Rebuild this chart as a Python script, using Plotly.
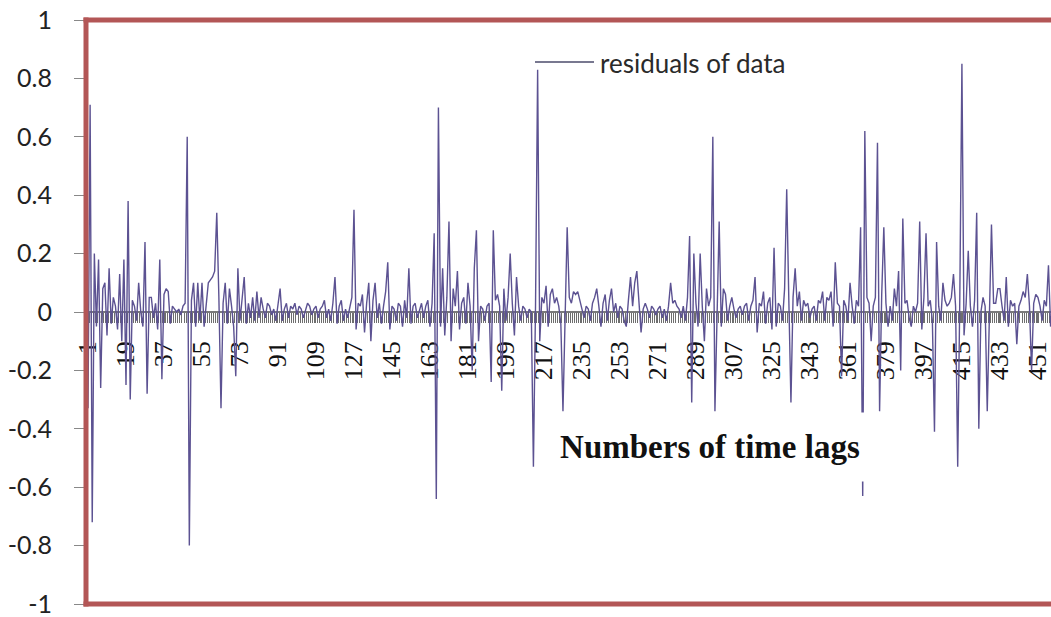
import plotly.graph_objects as go

# ---- data ----
residuals = [
    -0.33, 0.71, -0.72, 0.20, -0.05, 0.18, -0.26, 0.08, 0.10, -0.08,
    0.15, -0.04, 0.05, 0.02, -0.06, 0.13, -0.10, 0.18, -0.25, 0.38,
    -0.30, 0.04, 0.02, -0.03, 0.10, 0.00, -0.05, 0.24, -0.28, 0.05,
    0.05, -0.02, 0.03, -0.06, 0.18, -0.23, 0.06, 0.08, 0.07, -0.04,
    0.02, 0.01, 0.00, 0.01, -0.01, 0.02, 0.03, 0.60, -0.80, 0.04,
    0.10, -0.05, 0.10, -0.03, 0.10, -0.05, 0.04, 0.10, 0.11, 0.12,
    0.14, 0.34, 0.05, -0.33, 0.03, 0.10, -0.04, 0.08, 0.02, -0.05,
    -0.22, 0.15, -0.03, 0.06, 0.12, -0.04, 0.03, -0.02, 0.05, -0.03,
    0.07, -0.02, 0.05, 0.01, -0.02, 0.03, 0.02, -0.01, 0.01, -0.03,
    0.02, 0.08, -0.03, 0.01, 0.03, -0.02, 0.02, 0.01, 0.03, -0.01,
    0.02, 0.01, -0.02, 0.01, 0.03, 0.02, -0.01, 0.01, 0.02, -0.02,
    0.01, 0.02, 0.04, -0.02, 0.01, -0.03, 0.03, 0.12, -0.04, 0.02,
    0.04, -0.03, 0.01, -0.02, 0.02, 0.05, 0.35, -0.06, 0.03, 0.02,
    0.06, -0.07, 0.03, 0.10, -0.10, 0.04, 0.10, -0.02, 0.03, -0.04,
    0.02, 0.07, 0.17, -0.06, 0.02, 0.01, -0.03, 0.03, 0.02, -0.05,
    0.04, -0.02, 0.15, -0.04, 0.02, 0.03, -0.02, 0.01, 0.03, -0.02,
    0.02, 0.04, -0.05, 0.03, 0.27, -0.64, 0.70, -0.05, 0.15, -0.08,
    0.05, 0.31, -0.10, 0.08, 0.02, 0.14, -0.06, 0.03, 0.05, -0.04,
    0.10, 0.02, -0.20, 0.15, 0.28, -0.10, 0.02, 0.01, -0.03, 0.02,
    0.03, -0.24, 0.28, 0.04, 0.06, 0.02, -0.27, 0.08, -0.03, 0.05,
    0.20, 0.03, -0.08, 0.12, 0.02, -0.03, 0.02, 0.01, -0.02, 0.01,
    0.00, -0.53, 0.02, 0.83, -0.10, 0.05, 0.03, 0.09, -0.05, 0.06,
    0.08, 0.03, 0.05, 0.02, -0.04, -0.34, 0.03, 0.29, 0.05, 0.03,
    0.07, 0.06, 0.07, 0.04, 0.02, -0.02, 0.02, 0.01, -0.03, 0.03,
    0.05, 0.08, 0.02, -0.05, 0.03, 0.06, -0.03, 0.04, 0.08, 0.00,
    0.03, -0.02, 0.02, 0.01, -0.03, -0.05, 0.04, 0.12, 0.02, 0.10,
    0.14, 0.05, -0.07, 0.01, 0.03, 0.01, -0.02, 0.02, 0.01, -0.01,
    0.01, 0.02, -0.02, 0.01, -0.03, 0.02, 0.10, 0.03, 0.04, 0.02,
    0.01, -0.02, 0.02, -0.03, 0.05, 0.26, -0.31, 0.20, 0.03, -0.05,
    0.20, 0.02, -0.10, 0.08, 0.02, 0.05, 0.60, -0.34, 0.05, 0.31,
    -0.05, 0.08, 0.06, -0.03, 0.02, 0.05, 0.01, -0.02, 0.01, 0.02,
    -0.01, 0.02, 0.03, -0.03, 0.02, 0.04, 0.12, -0.07, 0.03, 0.02,
    0.07, -0.04, 0.03, 0.05, -0.06, 0.22, -0.05, 0.03, 0.02, -0.03,
    0.08, 0.42, 0.04, -0.31, 0.05, 0.15, 0.02, 0.07, -0.03, 0.04,
    0.02, 0.03, -0.02, 0.01, 0.02, -0.03, 0.04, 0.03, 0.07, -0.03,
    0.05, 0.04, 0.07, -0.05, 0.17, 0.03, 0.02, -0.22, 0.04, 0.02,
    -0.03, 0.10, 0.02, -0.04, 0.04, 0.02, 0.29, -0.63, 0.62, 0.05,
    0.03, -0.10, 0.02, 0.05, 0.58, -0.34, 0.06, 0.29, 0.03, -0.05,
    0.02, -0.03, 0.08, 0.02, 0.14, -0.20, 0.32, 0.03, 0.04, -0.02,
    -0.05, 0.02, 0.00, 0.03, 0.31, -0.06, 0.05, 0.27, 0.02, 0.04,
    -0.03, -0.41, 0.24, 0.02, -0.03, 0.10, 0.04, 0.02, 0.03, 0.05,
    0.13, 0.02, -0.53, 0.05, 0.85, -0.08, 0.03, 0.21, 0.02, -0.05,
    0.04, 0.34, -0.40, 0.00, 0.05, 0.02, -0.34, 0.04, 0.30, 0.03,
    0.03, 0.08, 0.08, 0.02, -0.03, 0.12, -0.05, 0.04, 0.02, 0.03,
    -0.11, 0.02, 0.04, 0.07, 0.05, 0.13, 0.02, -0.20, 0.03, 0.06,
    0.05, 0.02, -0.03, 0.04, 0.02, 0.16, -0.05, 0.03, 0.02, -0.04,
]
lags = list(range(1, len(residuals) + 1))

x_tick_vals = [1, 19, 37, 55, 73, 91, 109, 127, 145, 163, 181, 199, 217, 235,
               253, 271, 289, 307, 325, 343, 361, 379, 397, 415, 433, 451]
x_tick_text = [str(v) for v in x_tick_vals]
y_tick_vals = [1, 0.8, 0.6, 0.4, 0.2, 0, -0.2, -0.4, -0.6, -0.8, -1]
y_tick_text = ["1", "0.8", "0.6", "0.4", "0.2", "0", "-0.2", "-0.4", "-0.6", "-0.8", "-1"]

series_name = "residuals of data"
x_title = "Numbers of time lags"

# ---- styling ----
W, H = 1051, 617
ML, MR, MT, MB = 86, 0, 20, 13
PW, PH = W - ML - MR, H - MT - MB
border = "#B35656"
line_col = "#5C5292"


def px_x(p):
    return (p - ML) / PW


def px_y(p):
    return (H - MB - p) / PH


fig = go.Figure()
fig.add_trace(go.Scatter(
    x=lags, y=residuals, mode="lines", name=series_name,
    line=dict(color=line_col, width=1.4), showlegend=False,
))

fig.update_layout(
    width=W, height=H,
    margin=dict(l=ML, r=MR, t=MT, b=MB),
    paper_bgcolor="white", plot_bgcolor="white",
    xaxis=dict(
        type="linear", range=[0.05, 457.2],
        anchor="free", position=0.5,
        tickmode="array", tickvals=x_tick_vals, ticktext=x_tick_text,
        tickangle=-90,
        tickfont=dict(family="Liberation Serif", size=26, color="#111"),
        ticks="outside", ticklen=10, tickcolor="#6e6e6e", tickwidth=1.2,
        minor=dict(tickmode="linear", tick0=0.5, dtick=1, ticks="outside",
                   ticklen=10, tickcolor="#6e6e6e", tickwidth=1.2, showgrid=False),
        showline=True, linecolor="#7a7a7a", linewidth=1.5,
        showgrid=False, zeroline=False,
        ticklabelstandoff=8,
        ticklabeloverflow="allow",
        layer="below traces",
    ),
    yaxis=dict(
        range=[-1, 1],
        tickmode="array", tickvals=y_tick_vals, ticktext=y_tick_text,
        tickfont=dict(family="Lato", size=25, color="#222"),
        ticks="outside", ticklen=11, tickcolor="#888", tickwidth=1,
        showline=False, showgrid=False, zeroline=False,
        ticklabelstandoff=17,
        ticklabeloverflow="allow",
    ),
    shapes=[
        dict(type="line", xref="paper", yref="paper", x0=-2.5 / PW, x1=1.01, y0=1, y1=1,
             line=dict(color=border, width=5)),
        dict(type="line", xref="paper", yref="paper", x0=-2.5 / PW, x1=1.01, y0=0, y1=0,
             line=dict(color=border, width=5)),
        dict(type="line", xref="paper", yref="paper", x0=0, x1=0, y0=-2.5 / PH, y1=1 + 2.5 / PH,
             line=dict(color=border, width=5)),
        # legend key
        dict(type="line", xref="paper", yref="paper", x0=px_x(535), x1=px_x(594),
             y0=px_y(62), y1=px_y(62), line=dict(color="#4B4B6B", width=1.5)),
    ],
    annotations=[
        dict(text=series_name, xref="paper", yref="paper", x=px_x(598), y=px_y(63),
             xanchor="left", yanchor="middle", showarrow=False,
             font=dict(family="Lato", size=26, color="#2a2a2a")),
        dict(text="<b>" + x_title + "</b>", xref="paper", yref="paper",
             x=px_x(710), y=px_y(446.5), xanchor="center", yanchor="middle",
             showarrow=False, width=316, height=68, borderpad=0, bgcolor="white",
             font=dict(family="Liberation Serif", size=33, color="#111")),
    ],
)

fig.write_html("out.html")
